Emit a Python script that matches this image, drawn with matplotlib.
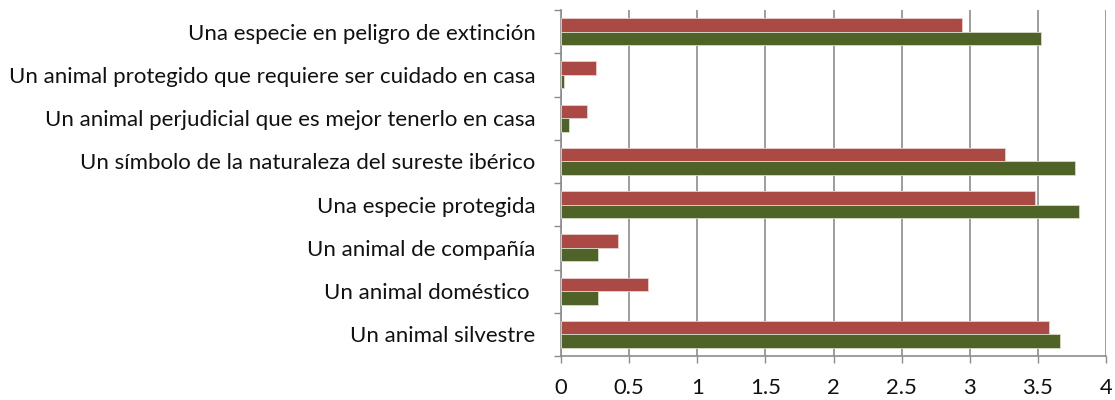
import matplotlib
matplotlib.use("Agg")
import matplotlib.pyplot as plt
import numpy as np

categories = [
    "Un animal silvestre",
    "Un animal doméstico ",
    "Un animal de compañía",
    "Una especie protegida",
    "Un símbolo de la naturaleza del sureste ibérico",
    "Un animal perjudicial que es mejor tenerlo en casa",
    "Un animal protegido que requiere ser cuidado en casa",
    "Una especie en peligro de extinción",
]
red_values = [3.58, 0.64, 0.42, 3.48, 3.26, 0.19, 0.26, 2.94]
green_values = [3.66, 0.27, 0.27, 3.80, 3.77, 0.06, 0.02, 3.52]
xticks = [0, 0.5, 1, 1.5, 2, 2.5, 3, 3.5, 4]
xtick_labels = ["0", "0.5", "1", "1.5", "2", "2.5", "3", "3.5", "4"]

plt.rcParams['font.family'] = ['Lato', 'DejaVu Sans']

fig = plt.figure(figsize=(11.15, 4.0), dpi=100)
ax = fig.add_axes([561/1115, 1 - 356/400, (1106 - 561)/1115, (356 - 10)/400])

y = np.arange(len(categories))
h = 0.31
red_c = "#AB4A45"
green_c = "#4F6228"
ax.barh(y + h/2, red_values, height=h, color=red_c, edgecolor="#e8d0cf", linewidth=0.6, zorder=3)
ax.barh(y - h/2, green_values, height=h, color=green_c, edgecolor="#d8dcc8", linewidth=0.6, zorder=3)

ax.set_xlim(0, 4)
ax.set_ylim(-0.5, len(categories) - 0.5)

ax.set_xticks(xticks)
ax.set_xticklabels(xtick_labels, fontsize=15.8)
ax.xaxis.grid(True, color="#8c8c8c", linewidth=1.2, zorder=0)
ax.tick_params(axis='x', length=5, width=1, color="#8c8c8c", pad=11, labelcolor="#111111")

ax.set_yticks(y)
ax.set_yticklabels(categories, fontsize=16, color="#111111")
ax.set_yticks(np.arange(-0.5, len(categories), 1.0), minor=True)
ax.tick_params(axis='y', which='major', length=0, pad=18.5)
ax.tick_params(axis='y', which='minor', length=5, width=1, color="#8c8c8c")

for s in ['top', 'right']:
    ax.spines[s].set_visible(False)
for s in ['left', 'bottom']:
    ax.spines[s].set_color("#8c8c8c")
    ax.spines[s].set_linewidth(1.2)

fig.savefig("out.png", dpi=100)
